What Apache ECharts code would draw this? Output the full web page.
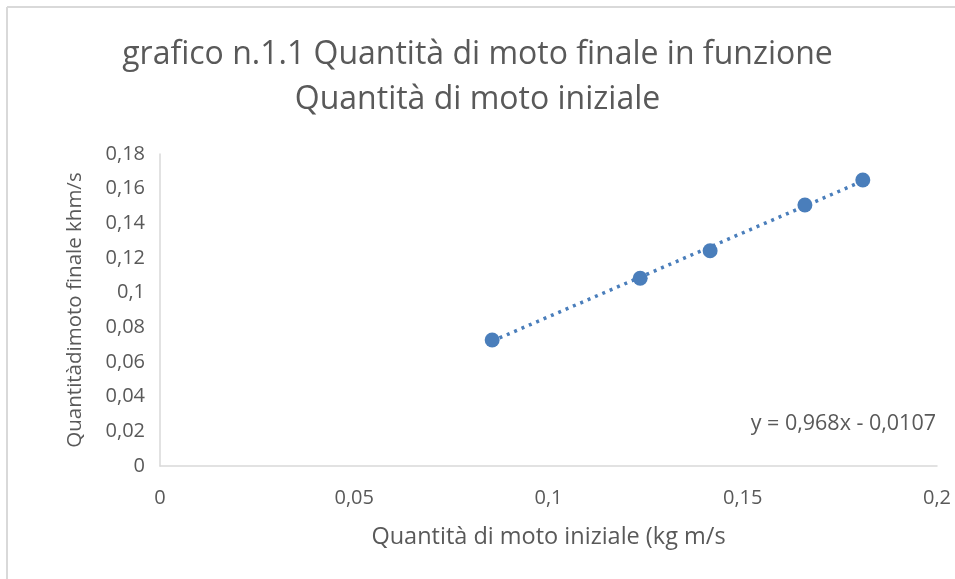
<!DOCTYPE html>
<html><head><meta charset="utf-8">
<script src="https://cdn.jsdelivr.net/npm/echarts@6/dist/echarts.min.js"></script>
<style>html,body{margin:0;padding:0;background:#fff}#c{width:955px;height:579px}</style>
</head><body><div id="c"></div>
<script>
const xValues = [0.0855, 0.1236, 0.1416, 0.1660, 0.1809];
const yValues = [0.0727, 0.1083, 0.1242, 0.1506, 0.1650];
const trendSlope = 0.968;
const trendIntercept = -0.0107;
const titleLines = ['grafico n.1.1 Quantità di moto finale in funzione', 'Quantità di moto iniziale'];
const xName = 'Quantità di moto iniziale (kg m/s';
const yName = 'Quantitàdimoto finale khm/s';
const equationText = 'y = 0,968x - 0,0107';

const pts = xValues.map((x, i) => [x, yValues[i]]);
const xMin = Math.min(...xValues), xMax = Math.max(...xValues);
const trend = [[xMin, trendSlope * xMin + trendIntercept], [xMax, trendSlope * xMax + trendIntercept]];
const fmt = v => String(+v.toFixed(4)).replace('.', ',');
const FONT = 'Open Sans';
const chart = echarts.init(document.getElementById('c'));
chart.setOption({
  animation: false,
  title: {
    text: titleLines.join('\n'), left: 'center', top: 27,
    textStyle: { fontFamily: FONT, fontSize: 32, fontWeight: 'normal', color: '#595959', lineHeight: 45 }
  },
  grid: { left: 160, right: 18, top: 154, bottom: 113 },
  xAxis: {
    type: 'value', min: 0, max: 0.2, interval: 0.05,
    name: xName, nameLocation: 'middle', nameGap: 59,
    nameTextStyle: { fontFamily: FONT, fontSize: 23.5, color: '#595959' },
    axisLine: { show: true, lineStyle: { color: '#d9d9d9', width: 1.5 } },
    axisTick: { show: false }, splitLine: { show: false },
    axisLabel: { fontFamily: FONT, fontSize: 20, color: '#595959', margin: 22, formatter: fmt }
  },
  yAxis: {
    type: 'value', min: 0, max: 0.18, interval: 0.02,
    name: yName, nameLocation: 'middle', nameGap: 74, nameRotate: 90,
    nameTextStyle: { fontFamily: FONT, fontSize: 20.5, color: '#595959' },
    axisLine: { show: true, lineStyle: { color: '#d9d9d9', width: 1.5 } },
    axisTick: { show: false }, splitLine: { show: false },
    axisLabel: { fontFamily: FONT, fontSize: 20, color: '#595959', margin: 15, formatter: fmt }
  },
  graphic: [
    { type: 'line', shape: { x1: 7, y1: 7, x2: 955, y2: 7 }, style: { stroke: '#d9d9d9', lineWidth: 2 } },
    { type: 'line', shape: { x1: 7, y1: 7, x2: 7, y2: 579 }, style: { stroke: '#d9d9d9', lineWidth: 2 } },
    { type: 'text', right: 19, top: 413, style: { text: equationText, fontFamily: FONT, fontSize: 21.5, fill: '#595959' } }
  ],
  series: [
    { type: 'line', data: trend, symbol: 'none', silent: true,
      lineStyle: { color: '#4a7ebb', width: 3.5, type: [3, 5] }, z: 1 },
    { type: 'scatter', data: pts, symbolSize: 15,
      itemStyle: { color: '#4a7ebb', opacity: 1 }, z: 2 }
  ]
});
</script></body></html>
